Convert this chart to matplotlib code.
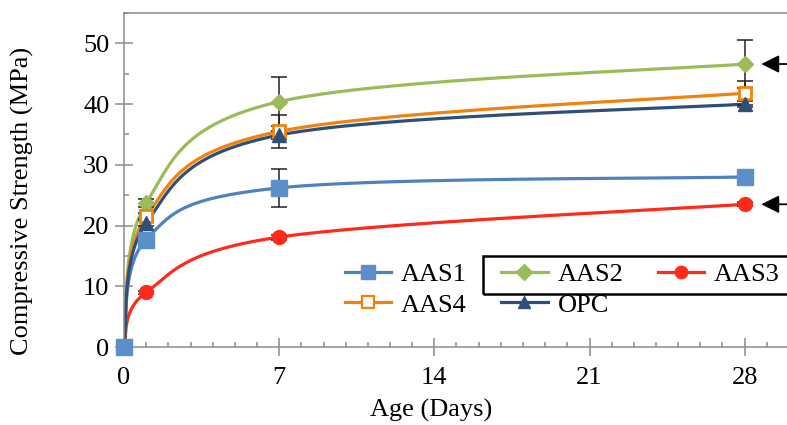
import numpy as np
import matplotlib
matplotlib.use("Agg")
import matplotlib.pyplot as plt
from matplotlib.patches import Rectangle
from matplotlib.ticker import MultipleLocator

# ages (days) and mean compressive strength (MPa)
age = [0, 1, 7, 28]
aas1 = [0, 17.7, 26.2, 28.0]
aas2 = [0, 23.7, 40.4, 46.6]
aas3 = [0, 9.0, 18.1, 23.5]
aas4 = [0, 21.5, 35.5, 41.8]
opc = [0, 20.4, 34.9, 40.0]

# error bar half-widths
aas1_err = [0, 0.4, 3.1, 0.3]
aas2_err = [0, 0.6, 4.0, 4.0]
aas3_err = [0, 0.3, 0.4, 0.3]
aas4_err = [0, 0.5, 2.7, 2.0]
opc_err = [0, 0.5, 0.6, 0.5]

plt.rcParams["font.family"] = ["Liberation Serif", "DejaVu Serif"]
FS = 19


def smooth(x, y, n=60):
    # Excel-style smoothed line: cubic Bezier through points, tension 1/6
    pts = np.column_stack([x, y]).astype(float)
    P = np.vstack([pts[0], pts, pts[-1]])
    t = np.linspace(0, 1, n)[:, None]
    segs = []
    for i in range(1, len(P) - 2):
        p0, p1, p2, p3 = P[i - 1], P[i], P[i + 1], P[i + 2]
        c1 = p1 + (p2 - p0) / 6
        c2 = p2 - (p3 - p1) / 6
        segs.append((1 - t) ** 3 * p1 + 3 * (1 - t) ** 2 * t * c1
                    + 3 * (1 - t) * t ** 2 * c2 + t ** 3 * p2)
    c = np.vstack(segs)
    return c[:, 0], c[:, 1]


fig = plt.figure(figsize=(7.87, 4.25), dpi=100)
ax = fig.add_axes([124 / 787, 78 / 425, 665 / 787, 334 / 425])

series = [
    ("AAS1", aas1, aas1_err, "#5b8fc9", "#4f81bd", "s", 11, "#5b8fc9", 3.6),
    ("AAS2", aas2, aas2_err, "#9bbb59", "#9bbb59", "D", 8.5, "#9bbb59", 3.1),
    ("AAS3", aas3, aas3_err, "#ff2a1a", "#ff2a1a", "o", 10, "#ff2a1a", 3.2),
    ("AAS4", aas4, aas4_err, "#f0820f", "#f0820f", "s", 9, "white", 3.3),
    ("OPC", opc, opc_err, "#2e5078", "#2e5078", "^", 10, "#2e5078", 3.4),
]

handles = {}
for name, vals, err, mcol, lcol, mk, ms, face, mz in series:
    sx, sy = smooth(age, vals)
    ax.plot(sx, sy, color=lcol, lw=2.3, zorder=2, solid_capstyle="round")
    ax.errorbar(age, vals, yerr=err, fmt="none", ecolor="#222222",
                elinewidth=1.1, capsize=6, capthick=1.1, zorder=2.5)
    ax.plot(age, vals, ls="none", marker=mk, ms=ms, mfc=face, mec=mcol,
            mew=2 if face == "white" else 1, zorder=mz, clip_on=False)
    handles[name] = ax.plot([], [], color=lcol, lw=2.3, marker=mk,
                            ms=ms * 0.9, mfc=face, mec=mcol,
                            mew=1.6 if face == "white" else 1)[0]

ax.set_xlim(0, 30)
ax.set_ylim(0, 55)

for side in ["left", "top", "bottom"]:
    ax.spines[side].set_color("#8c8c8c")
    ax.spines[side].set_linewidth(1.1)
ax.spines["right"].set_visible(False)

ax.xaxis.set_major_locator(MultipleLocator(7))
ax.xaxis.set_minor_locator(MultipleLocator(1))
ax.yaxis.set_major_locator(MultipleLocator(10))
ax.yaxis.set_minor_locator(MultipleLocator(5))
ax.set_yticks([0, 10, 20, 30, 40, 50])
ax.tick_params(which="major", direction="inout", length=13, width=1.1,
               color="#8c8c8c", labelsize=FS, labelcolor="black")
ax.tick_params(axis="y", which="major", pad=4)
ax.tick_params(axis="x", which="major", pad=8)
ax.tick_params(which="minor", direction="in", length=3.8, width=1.1,
               color="#8c8c8c")

ax.set_xlabel("Age (Days)", fontsize=FS)
ax.set_ylabel("Compressive Strength (MPa)", fontsize=FS)
ax.xaxis.set_label_coords((431 - 124) / 665, (347 - 399) / 334)
ax.yaxis.set_label_coords((34 - 124) / 665, (347 - 201) / 334)

order = ["AAS1", "AAS4", "AAS2", "OPC", "AAS3"]
leg = ax.legend([handles[k] for k in order], order, ncol=3,
                loc="upper left", bbox_to_anchor=(345 / 787, 1 - 263 / 425),
                bbox_transform=fig.transFigure, frameon=False,
                fontsize=FS, handlelength=1.75, handletextpad=0.38,
                columnspacing=1.3, labelspacing=0.25, borderpad=0,
                borderaxespad=0)

# box drawn round part of the legend
fig.add_artist(Rectangle((483 / 787, 1 - 294 / 425), 320 / 787, 38 / 425,
                         transform=fig.transFigure, fill=False,
                         edgecolor="black", lw=1.8, zorder=5))

# arrows marking the highest and lowest 28-day results
for yv in [aas2[-1], aas3[-1]]:
    ax.annotate("", xy=(28.75, yv), xytext=(30.6, yv),
                arrowprops=dict(arrowstyle="-|>", color="black", lw=1.3,
                                mutation_scale=27, shrinkA=0, shrinkB=0),
                annotation_clip=False)

fig.savefig("out.png", dpi=100)
